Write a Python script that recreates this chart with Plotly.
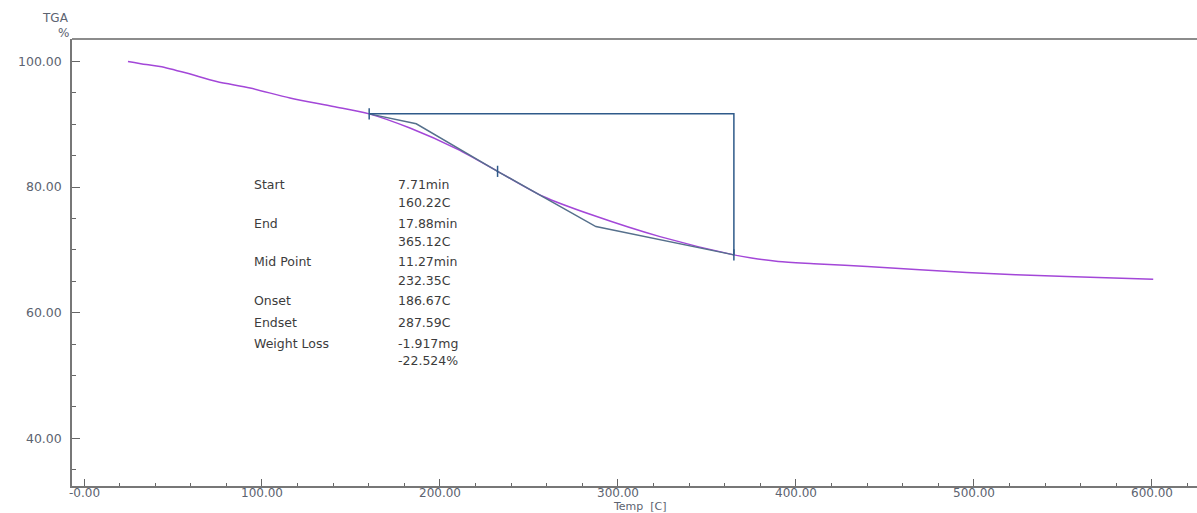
import plotly.graph_objects as go

# ---- data ----
temp = [24.7, 35, 42.7, 57.6, 74.5, 93.3, 115.7, 140, 160.2, 183.1, 210, 232.4,
        258, 286, 323.6, 365.1, 375, 390, 410, 440, 495.9, 552, 600.7]
weight = [100.0, 99.5, 99.2, 98.15, 96.8, 95.76, 94.17, 92.83, 91.65, 89.39, 86.0, 82.5,
          78.5, 75.5, 72.1, 69.2, 68.7, 68.15, 67.8, 67.35, 66.39, 65.75, 65.33]

# analysis: start, onset, mid, endset, end
an_T = [160.22, 186.67, 232.35, 287.59, 365.12]
an_W = [91.65, 90.07, 82.5, 73.71, 69.2]

bracket_T = [160.22, 365.12, 365.12]
bracket_W = [91.65, 91.65, 69.2]

mark_T = [160.22, 232.35, 365.12]
mark_W = [91.65, 82.5, 69.2]

x_tickvals = [0, 100, 200, 300, 400, 500, 600]
x_ticktext = ["-0.00", "100.00", "200.00", "300.00", "400.00", "500.00", "600.00"]
y_tickvals = [40, 60, 80, 100]
y_ticktext = ["40.00", "60.00", "80.00", "100.00"]

labels = ["Start", "", "End", "", "Mid Point", "", "Onset", "Endset", "Weight Loss", ""]
values = ["7.71min", "160.22C", "17.88min", "365.12C", "11.27min", "232.35C",
          "186.67C", "287.59C", "-1.917mg", "-22.524%"]

W, H = 1197, 513
L, R, T, B = 72, 0, 39, 27
PW, PH = W - L - R, H - T - B


def px(x):
    return (x - L) / PW


def py(y):
    return (H - B - y) / PH


fig = go.Figure()
fig.add_trace(go.Scatter(x=temp, y=weight, mode="lines",
                         line=dict(color="#a347d8", width=1.5, shape="spline", smoothing=0.8),
                         hoverinfo="skip", showlegend=False))
fig.add_trace(go.Scatter(x=an_T, y=an_W, mode="lines",
                         line=dict(color="#56708c", width=1.5),
                         hoverinfo="skip", showlegend=False))
fig.add_trace(go.Scatter(x=bracket_T, y=bracket_W, mode="lines",
                         line=dict(color="#2f5a8a", width=1.5),
                         hoverinfo="skip", showlegend=False))
fig.add_trace(go.Scatter(x=mark_T, y=mark_W, mode="markers",
                         marker=dict(symbol="line-ns", size=8,
                                     line=dict(color="#2f5a8a", width=1.5)),
                         hoverinfo="skip", showlegend=False))

tick_font = dict(family="DejaVu Sans", size=12.5, color="#5c6370")
xtick_font = dict(family="DejaVu Sans", size=12, color="#5c6370")

fig.update_xaxes(range=[-6.74, 625.3], showline=True, linecolor="#777777", linewidth=1.5,
                 ticks="inside", ticklen=7, tickwidth=1.3, tickcolor="#666666",
                 tickvals=x_tickvals, showticklabels=False,
                 showgrid=False, zeroline=False,
                 minor=dict(ticks="inside", ticklen=3.5, tickwidth=1.3, tickcolor="#666666",
                            dtick=20, tick0=0, showgrid=False))
fig.update_yaxes(range=[32.4, 103.57], showline=True, linecolor="#777777", linewidth=1.5,
                 ticks="inside", ticklen=8, tickwidth=1.3, tickcolor="#666666",
                 tickvals=y_tickvals, ticktext=y_ticktext, tickfont=tick_font,
                 ticklabelstandoff=6,
                 showgrid=False, zeroline=False,
                 minor=dict(ticks="inside", ticklen=4, tickwidth=1.3, tickcolor="#666666",
                            dtick=5, tick0=0, showgrid=False))

fig.add_shape(type="line", xref="paper", yref="paper", x0=0, x1=1, y0=1, y1=1,
              line=dict(color="#666666", width=1.5))

ann = []
# x tick labels, placed on the x axis scale
for tv, tt in zip(x_tickvals, x_ticktext):
    ann.append(dict(text=tt, x=tv, y=py(492.5), xref="x", yref="paper",
                    xanchor="center", yanchor="middle", showarrow=False,
                    font=xtick_font))

small = dict(family="DejaVu Sans", size=12, color="#5c6370")
ann.append(dict(text="TGA", x=px(71), y=py(18), xref="paper", yref="paper",
                xanchor="right", yanchor="middle", showarrow=False, font=small))
ann.append(dict(text="%", x=px(71), y=py(33), xref="paper", yref="paper",
                xanchor="right", yanchor="middle", showarrow=False, font=small))
ann.append(dict(text="Temp  [C]", x=px(640), y=py(506.5), xref="paper", yref="paper",
                xanchor="center", yanchor="middle", showarrow=False,
                font=dict(family="DejaVu Sans", size=11, color="#5c6370")))

row_y = [184, 202.7, 223.3, 241.7, 261.7, 280, 300.7, 322.7, 343.3, 360]
text_font = dict(family="DejaVu Sans", size=12.5, color="#3c3c3c")
for lab, val, yy in zip(labels, values, row_y):
    if lab:
        ann.append(dict(text=lab, x=px(252), y=py(yy), xref="paper", yref="paper",
                        xanchor="left", yanchor="middle", showarrow=False, font=text_font))
    ann.append(dict(text=val, x=px(396), y=py(yy), xref="paper", yref="paper",
                    xanchor="left", yanchor="middle", showarrow=False, font=text_font))

fig.update_layout(width=W, height=H, margin=dict(l=L, r=R, t=T, b=B),
                  paper_bgcolor="white", plot_bgcolor="white",
                  annotations=ann, showlegend=False)

fig.write_html("out.html")
